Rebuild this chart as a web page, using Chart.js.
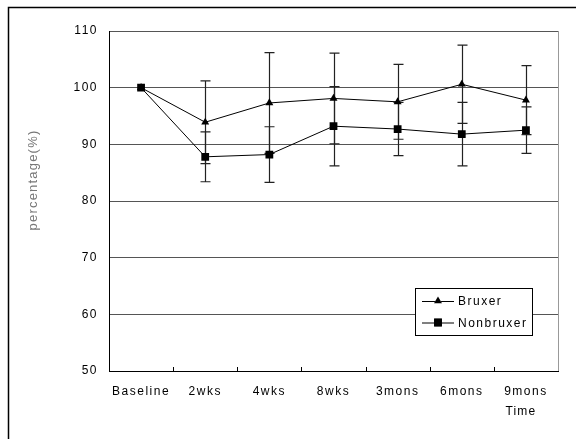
<!DOCTYPE html>
<html>
<head>
<meta charset="utf-8">
<script src="https://cdn.jsdelivr.net/npm/chart.js@4"></script>
<style>
  html, body { margin: 0; padding: 0; background: #fff; }
  #wrap { width: 576px; height: 439px; }
</style>
</head>
<body>
<div id="wrap"><canvas id="chart" width="576" height="439"></canvas></div>
<script>
// data
const timeLabels = ['Baseline', '2wks', '4wks', '8wks', '3mons', '6mons', '9mons'];
const bruxerMean = [100, 93.9, 97.3, 98.1, 97.5, 100.6, 97.8];
const bruxerErr = [0, 7.3, 8.9, 8.0, 6.6, 6.9, 6.1];
const nonbruxerMean = [100, 87.8, 88.2, 93.2, 92.7, 91.8, 92.5];
const nonbruxerErr = [0, 4.4, 4.9, 7.0, 4.7, 5.6, 4.1];
const yTicks = [50, 60, 70, 80, 90, 100, 110];

const FONT = 'Liberation Sans, Arial, sans-serif';

// frame, error bars, small inward x ticks, axis titles and the boxed legend
const extras = {
  id: 'extras',
  beforeDraw(chart) {
    const ctx = chart.ctx;
    ctx.save();
    ctx.fillStyle = '#fff';
    ctx.fillRect(0, 0, chart.width, chart.height);
    ctx.strokeStyle = '#000';
    ctx.lineWidth = 1.5;
    ctx.beginPath();
    ctx.moveTo(8.5, chart.height);
    ctx.lineTo(8.5, 7.5);
    ctx.lineTo(chart.width, 7.5);
    ctx.stroke();
    ctx.restore();
    ctx.letterSpacing = '1.5px';
  },
  beforeDatasetsDraw(chart) {
    const ctx = chart.ctx;
    const x = chart.scales.x, y = chart.scales.y;
    const area = chart.chartArea;
    ctx.save();
    // plot area right edge
    ctx.strokeStyle = '#999';
    ctx.lineWidth = 1;
    ctx.beginPath();
    ctx.moveTo(Math.round(area.right) + 0.5, area.top);
    ctx.lineTo(Math.round(area.right) + 0.5, area.bottom);
    ctx.stroke();
    // inward ticks on the category axis
    ctx.strokeStyle = '#000';
    ctx.beginPath();
    for (let i = 1; i < timeLabels.length; i++) {
      const px = Math.round((x.getPixelForValue(i - 1) + x.getPixelForValue(i)) / 2) + 0.5;
      ctx.moveTo(px, area.bottom);
      ctx.lineTo(px, area.bottom - 4);
    }
    ctx.stroke();
    // error bars
    const sets = [[bruxerMean, bruxerErr], [nonbruxerMean, nonbruxerErr]];
    ctx.strokeStyle = '#222';
    ctx.lineWidth = 1.2;
    sets.forEach(([mean, err]) => {
      mean.forEach((m, i) => {
        if (!err[i]) return;
        const px = Math.round(x.getPixelForValue(i)) + 0.5;
        const top = y.getPixelForValue(m + err[i]);
        const bot = y.getPixelForValue(m - err[i]);
        ctx.beginPath();
        ctx.moveTo(px, top);
        ctx.lineTo(px, bot);
        ctx.moveTo(px - 5, top);
        ctx.lineTo(px + 5, top);
        ctx.moveTo(px - 5, bot);
        ctx.lineTo(px + 5, bot);
        ctx.stroke();
      });
    });
    ctx.restore();
  },
  afterDraw(chart) {
    const ctx = chart.ctx;
    const x = chart.scales.x;
    ctx.save();
    // y title
    ctx.font = '13px ' + FONT;
    ctx.letterSpacing = '1.2px';
    ctx.fillStyle = '#777';
    ctx.textAlign = 'center';
    ctx.textBaseline = 'middle';
    ctx.translate(33, 180);
    ctx.rotate(-Math.PI / 2);
    ctx.fillText('percentage(%)', 0, 0);
    ctx.restore();

    ctx.save();
    ctx.font = '12px ' + FONT;
    ctx.letterSpacing = '1.2px';
    ctx.fillStyle = '#000';
    ctx.textAlign = 'center';
    ctx.textBaseline = 'middle';
    ctx.fillText('Time', x.getPixelForValue(timeLabels.length - 1) - 5, 412);

    // legend box
    const lx = 415, ly = 288, lw = 117, lh = 47;
    ctx.fillStyle = '#fff';
    ctx.fillRect(lx, ly, lw, lh);
    ctx.strokeStyle = '#000';
    ctx.lineWidth = 1;
    ctx.strokeRect(lx + 0.5, ly + 0.5, lw, lh);
    ctx.font = '12px ' + FONT;
    ctx.letterSpacing = '1.5px';
    ctx.textAlign = 'left';
    chart.data.datasets.forEach((ds, i) => {
      const ry = ly + 13 + i * 21.5;
      ctx.strokeStyle = '#000';
      ctx.beginPath();
      ctx.moveTo(lx + 7, ry + 0.5);
      ctx.lineTo(lx + 39, ry + 0.5);
      ctx.stroke();
      Chart.helpers.drawPoint(ctx, {
        pointStyle: ds.pointStyle, radius: ds.pointRadius, rotation: 0, borderWidth: 0
      }, lx + 23, ry);
      ctx.fillStyle = '#000';
      ctx.fill();
      ctx.fillText(ds.label, lx + 43, ry + 1);
    });
    ctx.restore();
  }
};

new Chart(document.getElementById('chart'), {
  type: 'line',
  data: {
    labels: timeLabels,
    datasets: [
      {
        label: 'Bruxer',
        data: bruxerMean,
        borderColor: '#000',
        backgroundColor: '#000',
        borderWidth: 1,
        pointStyle: 'triangle',
        pointRadius: 4.6,
        pointBorderWidth: 0,
        order: 1
      },
      {
        label: 'Nonbruxer',
        data: nonbruxerMean,
        borderColor: '#000',
        backgroundColor: '#000',
        borderWidth: 1,
        pointStyle: 'rect',
        pointRadius: 5.5,
        pointBorderWidth: 0,
        order: 0
      }
    ]
  },
  options: {
    responsive: false,
    animation: false,
    layout: { padding: { left: 0, top: 31, right: 18, bottom: 28 } },
    plugins: {
      legend: { display: false },
      tooltip: { enabled: false }
    },
    scales: {
      x: {
        offset: true,
        grid: { display: false, drawTicks: false },
        border: { display: true, color: '#000', width: 1 },
        ticks: { color: '#000', font: { family: FONT, size: 12 }, padding: 13, maxRotation: 0, autoSkip: false },
        afterFit: s => { s.height = 40; }
      },
      y: {
        min: 50,
        max: 110,
        afterBuildTicks: s => { s.ticks = yTicks.map(v => ({ value: v })); },
        grid: { color: '#555', lineWidth: 1, drawTicks: false },
        border: { display: true, color: '#000', width: 1 },
        ticks: { color: '#000', font: { family: FONT, size: 12 }, padding: 11 },
        afterFit: s => { s.width = 109; }
      }
    }
  },
  plugins: [extras]
});
</script>
</body>
</html>
